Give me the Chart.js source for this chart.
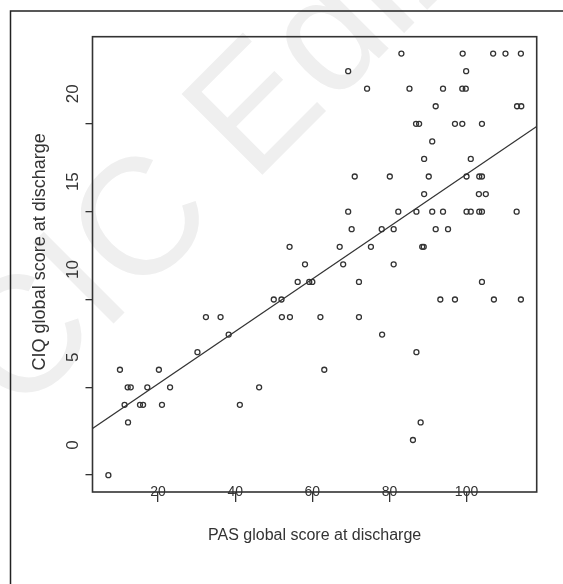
<!DOCTYPE html>
<html><head><meta charset="utf-8">
<script src="https://cdn.jsdelivr.net/npm/chart.js@4/dist/chart.umd.min.js"></script>
<style>html,body{margin:0;padding:0;background:#fff;}#wrap{width:563px;height:584px;}</style>
</head><body><div id="wrap"><canvas id="c" width="563" height="584"></canvas></div>
<script>
// PAS global score at discharge (x) and CIQ global score at discharge (y), one entry per patient
const pasScores = [
  83.1, 99.0, 106.9, 110.1, 114.1,
  69.3, 99.9,
  74.2, 85.2, 93.9, 98.9, 99.8,
  92.0, 113.1, 114.2,
  86.9, 87.7, 97.0, 98.9, 104.0,
  91.1,
  89.0, 101.1,
  71.0, 80.1, 90.2, 100.0, 103.3, 104.0,
  89.0, 103.2, 105.0,
  69.3, 82.3, 87.0, 91.1, 93.9, 100.0, 101.1, 103.3, 104.0, 113.0,
  70.2, 78.0, 81.1, 92.0, 95.2,
  54.1, 67.1, 75.2, 88.5, 88.9,
  58.1, 68.0, 81.1,
  56.2, 59.2, 60.0, 72.1, 104.0,
  50.0, 52.0, 93.2, 97.0, 107.1, 114.1,
  32.4, 36.2, 52.1, 54.2, 62.1, 72.1,
  38.3, 78.1,
  30.2, 87.0,
  10.1, 20.2, 63.1,
  12.1, 12.9, 17.2, 23.1, 46.2,
  11.3, 15.3, 16.1, 21.0, 41.2,
  12.2, 88.1,
  86.1,
  7.1
];
const ciqScores = [
  24, 24, 24, 24, 24,
  23, 23,
  22, 22, 22, 22, 22,
  21, 21, 21,
  20, 20, 20, 20, 20,
  19,
  18, 18,
  17, 17, 17, 17, 17, 17,
  16, 16, 16,
  15, 15, 15, 15, 15, 15, 15, 15, 15, 15,
  14, 14, 14, 14, 14,
  13, 13, 13, 13, 13,
  12, 12, 12,
  11, 11, 11, 11, 11,
  10, 10, 10, 10, 10, 10,
  9, 9, 9, 9, 9, 9,
  8, 8,
  7, 7,
  6, 6, 6,
  5, 5, 5, 5, 5,
  4, 4, 4, 4, 4,
  3, 3,
  2,
  0
];
// fitted regression line, end points
const fitLineX = [2.98, 118.2];
const fitLineY = [2.66, 19.85];
// axis ticks
const xTickValues = [20, 40, 60, 80, 100];
const yTickValues = [0, 5, 10, 15, 20];
const xTitle = 'PAS global score at discharge';
const yTitle = 'CIQ global score at discharge';
const watermarkText = 'CIC Edizioni';

const ink = '#333333';
const FONT = '"Liberation Sans", Arial, Helvetica, sans-serif';

const framePlugin = {
  id: 'frame',
  beforeDraw(chart) {
    const ctx = chart.ctx;
    ctx.save();
    ctx.fillStyle = '#ffffff';
    ctx.fillRect(0, 0, chart.width, chart.height);
    ctx.translate(18, 419);
    ctx.rotate(-Math.PI / 4);
    ctx.font = '166px ' + FONT;
    ctx.fillStyle = '#efefef';
    ctx.textBaseline = 'alphabetic';
    ctx.fillText(watermarkText, 0, 0);
    ctx.restore();
  },
  afterDraw(chart) {
    const ctx = chart.ctx;
    const a = chart.chartArea;
    ctx.save();
    ctx.strokeStyle = ink;
    ctx.lineWidth = 1.6;
    ctx.strokeRect(a.left, a.top, a.right - a.left, a.bottom - a.top);
    ctx.strokeStyle = '#222';
    ctx.lineWidth = 1.5;
    ctx.beginPath();
    ctx.moveTo(10.5, chart.height);
    ctx.lineTo(10.5, 11);
    ctx.lineTo(chart.width, 11);
    ctx.stroke();
    ctx.restore();
  }
};

new Chart(document.getElementById('c'), {
  type: 'scatter',
  data: {
    datasets: [
      {
        data: pasScores.map((x, i) => ({ x: x, y: ciqScores[i] })),
        pointRadius: 2.5,
        pointBorderWidth: 1.3,
        borderColor: ink,
        backgroundColor: 'rgba(0,0,0,0)',
        pointStyle: 'circle'
      },
      {
        type: 'line',
        data: fitLineX.map((x, i) => ({ x: x, y: fitLineY[i] })),
        borderColor: ink,
        borderWidth: 1.3,
        pointRadius: 0,
        fill: false
      }
    ]
  },
  options: {
    responsive: false,
    devicePixelRatio: 1,
    animation: false,
    events: [],
    layout: { padding: { left: 0, top: 36.7, right: 26.3, bottom: 0 } },
    plugins: { legend: { display: false }, tooltip: { enabled: false } },
    scales: {
      x: {
        type: 'linear',
        min: 2.98,
        max: 118.2,
        afterBuildTicks: s => { s.ticks = xTickValues.map(v => ({ value: v })); },
        afterFit: s => { s.height = 92; s._computeLabelArea = () => undefined; },
        border: { display: false },
        grid: { drawOnChartArea: false, drawTicks: true, tickLength: 10, color: ink, lineWidth: 1.3 },
        ticks: { font: { family: FONT, size: 14 }, color: ink, padding: -18, maxRotation: 0, autoSkip: false },
        title: { display: true, text: xTitle, font: { family: FONT, size: 16 }, color: ink, padding: { top: 0, bottom: 39 } }
      },
      y: {
        type: 'linear',
        min: -0.96,
        max: 24.96,
        afterBuildTicks: s => { s.ticks = yTickValues.map(v => ({ value: v })); },
        afterFit: s => { s.width = 92.5; },
        border: { display: false },
        grid: { drawOnChartArea: false, drawTicks: true, tickLength: 7, color: ink, lineWidth: 1.3 },
        ticks: { font: { family: FONT, size: 17 }, color: ink, padding: 3, minRotation: 90, maxRotation: 90, crossAlign: 'center', labelOffset: -30, autoSkip: false },
        title: { display: true, text: '     ' + yTitle, font: { family: FONT, size: 18 }, color: ink, padding: { top: 29, bottom: 0 } }
      }
    }
  },
  plugins: [framePlugin]
});
</script>
</body></html>
